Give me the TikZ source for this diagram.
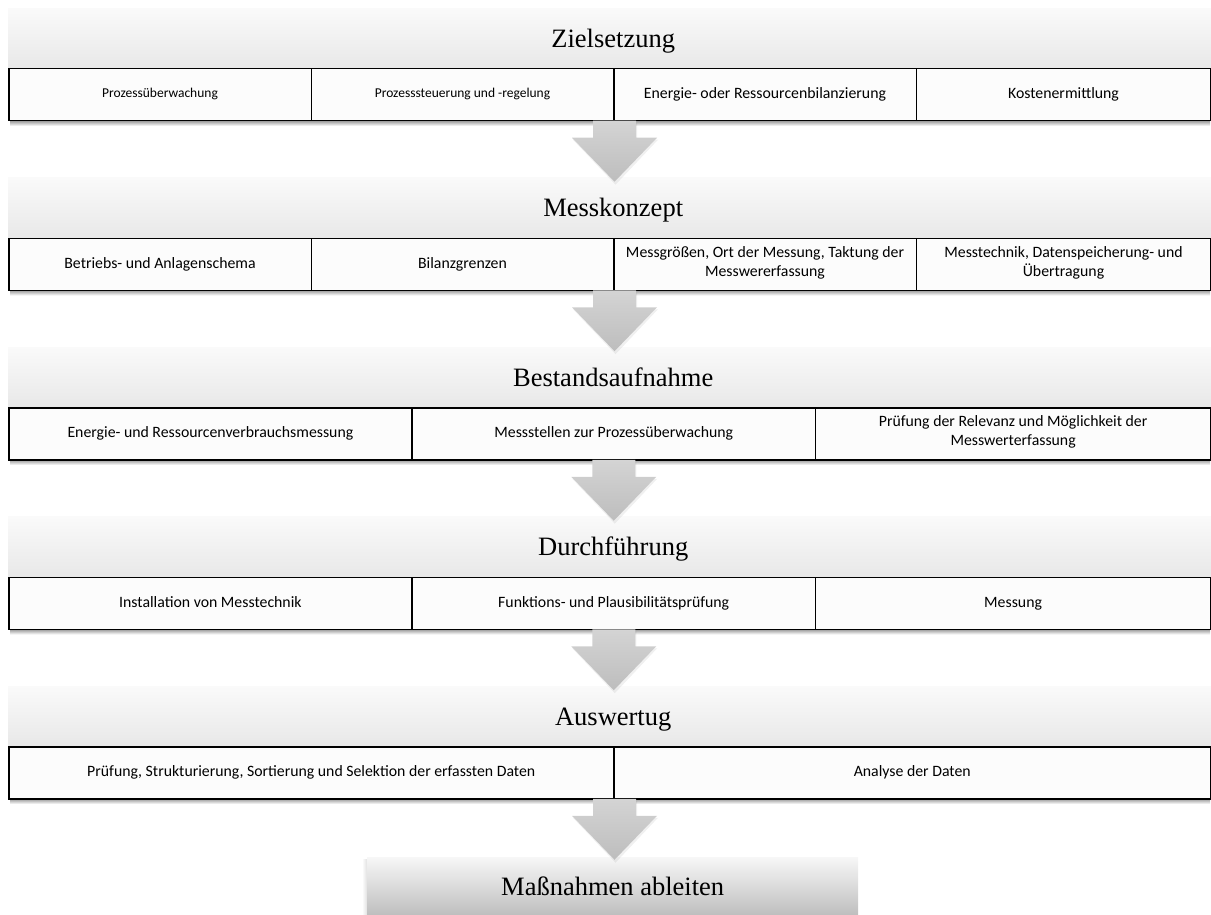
\documentclass[tikz,border=0pt]{standalone}
\usepackage{fontspec}
\setmainfont{Liberation Serif}
\newfontfamily\cellfont{Carlito}
\usetikzlibrary{calc}
\definecolor{hdtop}{HTML}{FAFAFA}
\definecolor{hdbot}{HTML}{E8E8E8}
\definecolor{clfill}{HTML}{FCFCFC}
\definecolor{artop}{HTML}{D4D4D4}
\definecolor{arbot}{HTML}{BDBDBD}
\definecolor{fntop}{HTML}{F7F7F7}
\definecolor{fnbot}{HTML}{BEBEBE}
\definecolor{shd}{HTML}{8A8A8A}
\newcommand\blockarrow[1]{%
  \fill[black,opacity=0.06] ($(#1)+(-20.5,2)$) -- ++(0,17) -- ++(-21,0) -- ++(42.5,45) -- ++(42.5,-45) -- ++(-21,0) -- ++(0,-17) -- cycle;
  \path[arw] (#1) ++(-21.5,0) -- ++(0,17) -- ++(-21,0) -- ++(42.5,44) -- ++(42.5,-44) -- ++(-21,0) -- ++(0,-17) -- cycle;}
\newcommand\rowshadow[3]{%
  \shade[top color=shd, bottom color=white] (#1+2,#3) rectangle (#2,#3+6);}
\begin{document}
\begin{tikzpicture}[x=1pt,y=-1pt,
  hd/.style={anchor=north west, minimum width=1210pt, minimum height=60pt, inner sep=0pt,
    top color=hdtop, bottom color=hdbot, font=\fontsize{26.5}{30}\selectfont,
    text height=18pt, text depth=0pt},
  cl/.style={anchor=north west, draw=black, line width=1.5pt, fill=clfill, minimum height=52pt,
    inner sep=2pt, align=center, font=\cellfont\fontsize{15.8}{19.3}\selectfont,
    execute at begin node=\strut},
  small/.style={font=\cellfont\fontsize{13.5}{16}\selectfont},
  arw/.style={top color=artop, bottom color=arbot, draw=none},
  fin/.style={anchor=north west, minimum width=491pt, minimum height=58pt, inner sep=0pt,
    top color=fntop, bottom color=fnbot, font=\fontsize{26.5}{30}\selectfont}]
\useasboundingbox (0,0) rectangle (1211,915);
\clip (0,0) rectangle (1211,915);

% ---------- Band 1
\node[hd] (h1) at (8,8) {Zielsetzung};
\rowshadow{8}{1210}{120}
\node[cl,small,minimum width=302.5pt] (z1) at (8,68) {Prozessüberwachung};
\node[cl,small,minimum width=302.5pt] (z2) at (310.5,68) {Prozesssteuerung und -regelung};
\node[cl,minimum width=302.5pt] (z3) at (613,68) {Energie- oder Ressourcenbilanzierung};
\node[cl,minimum width=294.5pt] (z4) at (915.5,68) {Kostenermittlung};

% ---------- Band 2
\node[hd] (h2) at (8,177.5) {Messkonzept};
\rowshadow{8}{1210}{289.5}
\node[cl,minimum width=302.5pt] (m1) at (8,237.5) {Betriebs- und Anlagenschema};
\node[cl,minimum width=302.5pt] (m2) at (310.5,237.5) {Bilanzgrenzen};
\node[cl,minimum width=302.5pt] (m3) at (613,237.5) {Messgrößen, Ort der Messung, Taktung der\\Messwererfassung};
\node[cl,minimum width=294.5pt] (m4) at (915.5,237.5) {Messtechnik, Datenspeicherung- und\\Übertragung};

% ---------- Band 3
\node[hd] (h3) at (8,347) {Bestandsaufnahme};
\rowshadow{8}{1210}{459}
\node[cl,minimum width=403.3pt] (b1) at (8,407) {Energie- und Ressourcenverbrauchsmessung};
\node[cl,minimum width=403.4pt] (b2) at (411.3,407) {Messstellen zur Prozessüberwachung};
\node[cl,minimum width=395.3pt] (b3) at (814.7,407) {Prüfung der Relevanz und Möglichkeit der\\Messwerterfassung};

% ---------- Band 4
\node[hd] (h4) at (8,516.5) {Durchführung};
\rowshadow{8}{1210}{628.5}
\node[cl,minimum width=403.3pt] (d1) at (8,576.5) {Installation von Messtechnik};
\node[cl,minimum width=403.4pt] (d2) at (411.3,576.5) {Funktions- und Plausibilitätsprüfung};
\node[cl,minimum width=395.3pt] (d3) at (814.7,576.5) {Messung};

% ---------- Band 5
\node[hd] (h5) at (8,686) {Auswertug};
\rowshadow{8}{1210}{798}
\node[cl,minimum width=605pt] (e1) at (8,746) {Prüfung, Strukturierung, Sortierung und Selektion der erfassten Daten};
\node[cl,minimum width=597pt] (e2) at (613,746) {Analyse der Daten};

% ---------- Final
\shade[left color=white, right color=black!12] (362,859) rectangle (367,915);
\node[fin] (f) at (367,857) {Maßnahmen ableiten};

% ---------- Arrows
\coordinate (a1) at ($(z2.south east)+(0,-0.75)$);
\coordinate (a2) at ($(m2.south east)+(0,-0.75)$);
\coordinate (a3) at ($(b2.south)+(0,-0.75)$);
\coordinate (a4) at ($(d2.south)+(0,-0.75)$);
\coordinate (a5) at ($(e1.south east)+(0,-0.75)$);
\blockarrow{a1}
\blockarrow{a2}
\blockarrow{a3}
\blockarrow{a4}
\blockarrow{a5}
\end{tikzpicture}
\end{document}
